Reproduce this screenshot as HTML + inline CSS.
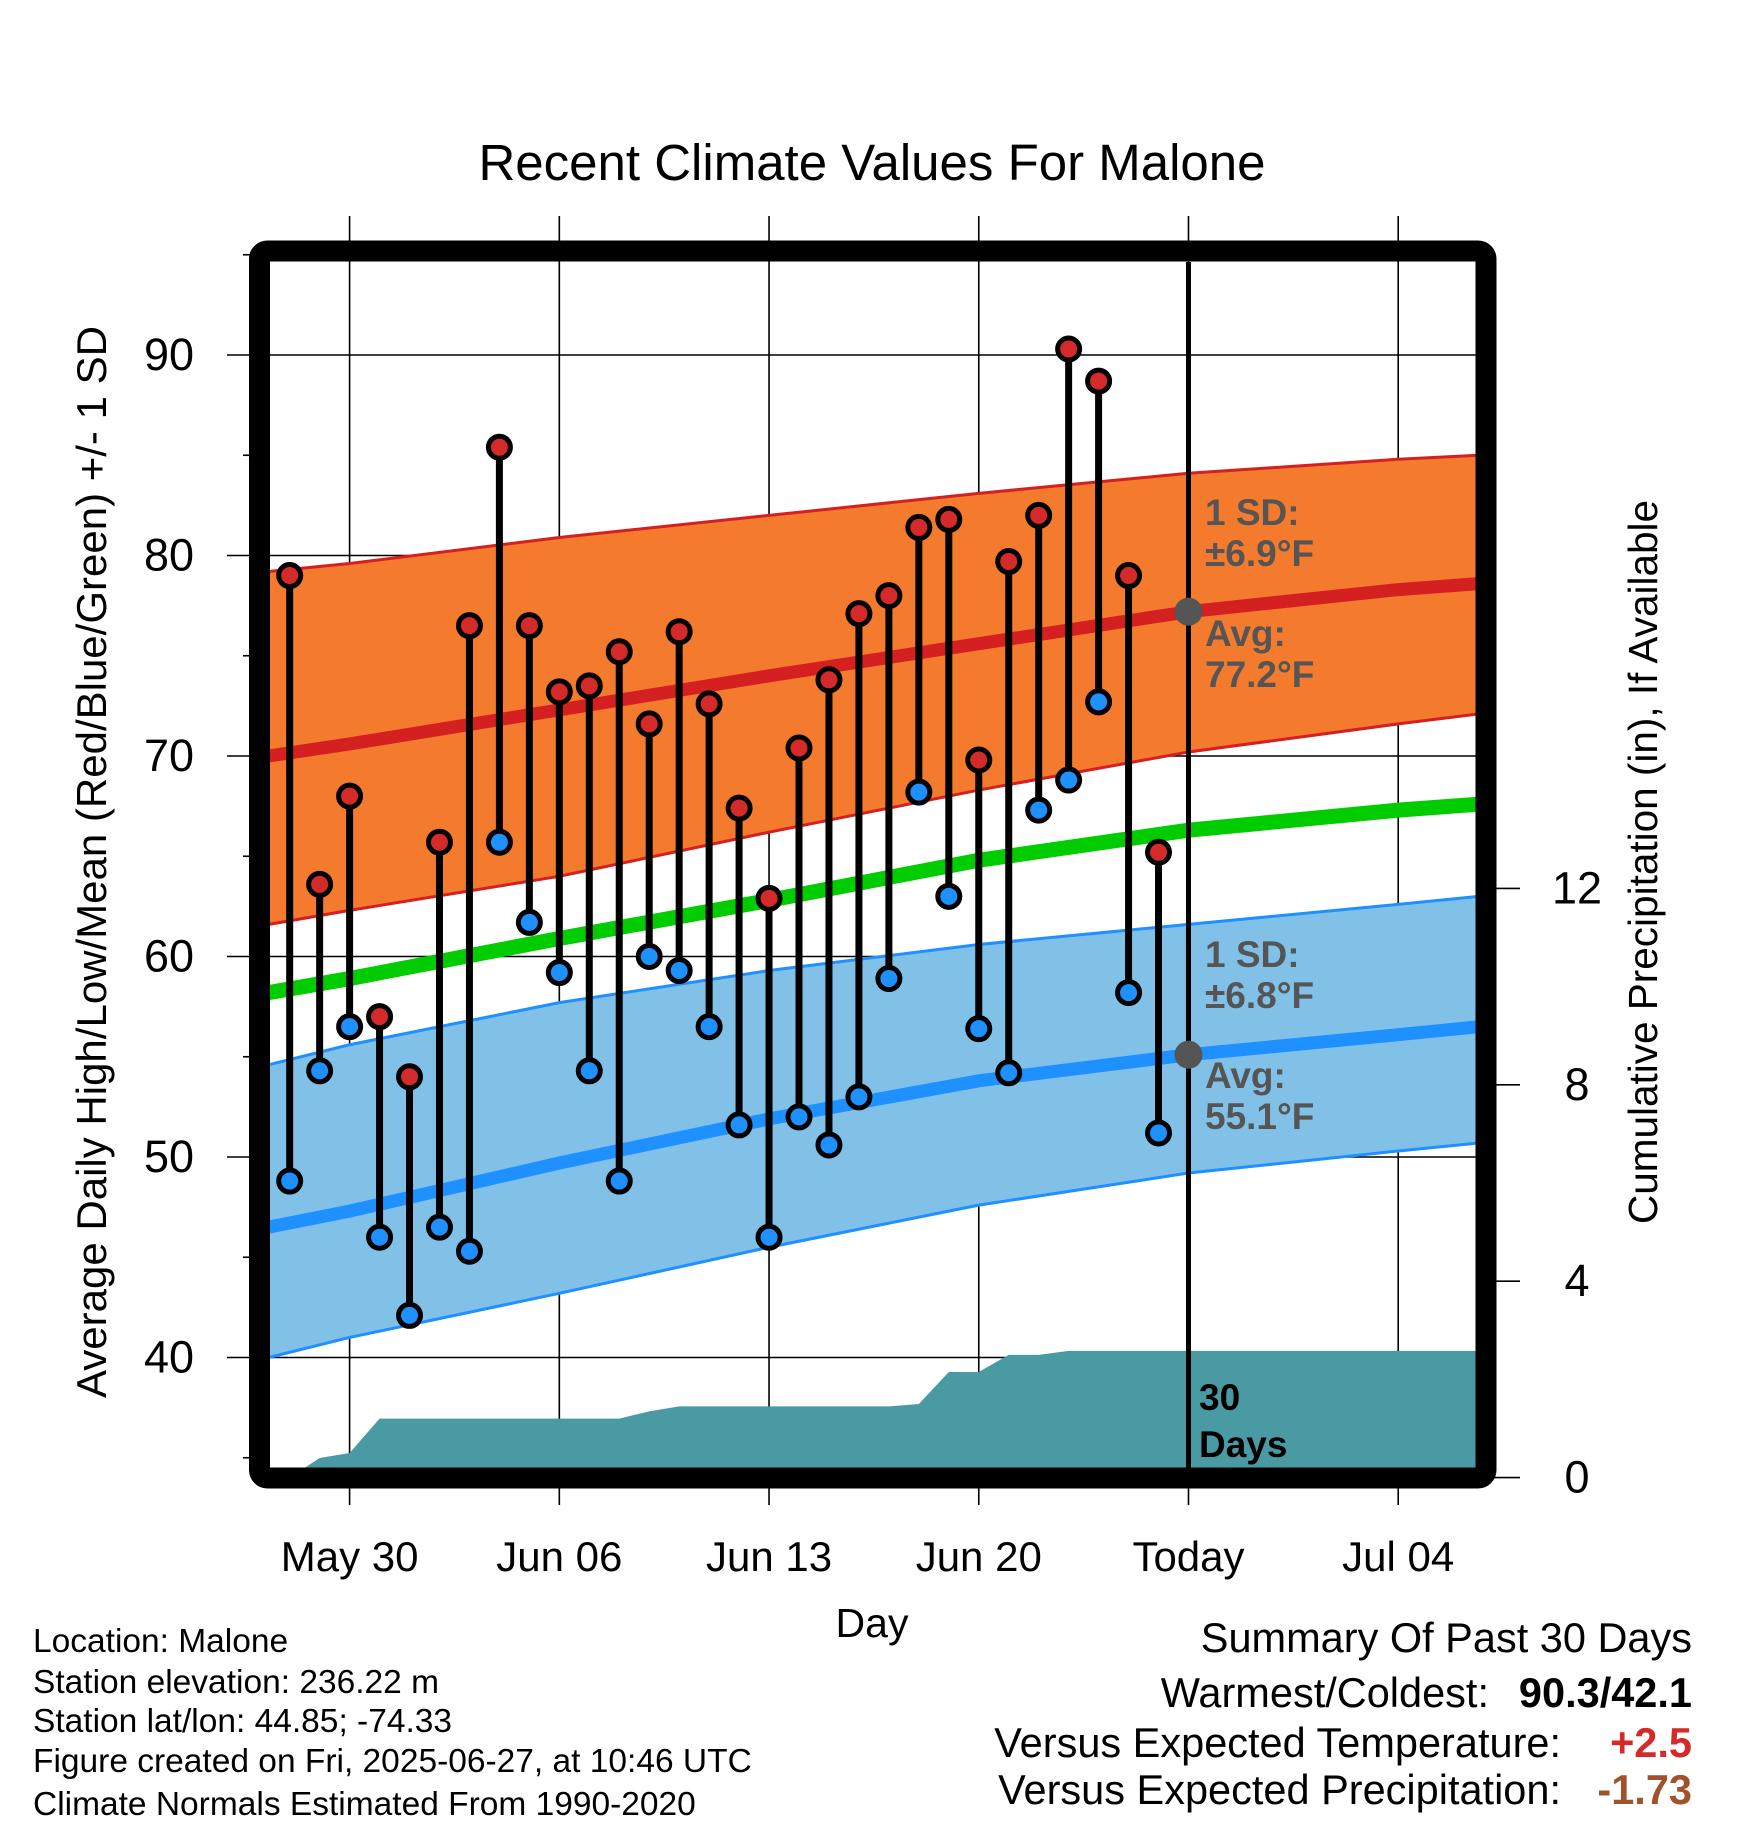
<!DOCTYPE html>
<html><head><meta charset="utf-8"><style>
html,body{margin:0;padding:0;background:#fff}
svg{display:block;font-family:"Liberation Sans",Arial,sans-serif}
</style></head><body>
<svg id="chart" width="1748" height="1828" viewBox="0 0 1748 1828" xmlns="http://www.w3.org/2000/svg">
<defs><clipPath id="clip"><rect x="270" y="262" width="1206" height="1206"/></clipPath></defs>
<text x="872" y="180" font-size="51" text-anchor="middle">Recent Climate Values For Malone</text>
<g id="grid"></g>
<g id="bands" clip-path="url(#clip)"></g>
<g id="marks"></g>
<rect x="259.5" y="251" width="1226.5" height="1227" rx="8" fill="none" stroke="#000" stroke-width="21"/>
<g id="labels"></g>
<text x="872" y="1637" font-size="41" text-anchor="middle">Day</text>
<text transform="translate(106,862) rotate(-90)" font-size="42" text-anchor="middle">Average Daily High/Low/Mean (Red/Blue/Green) +/- 1 SD</text>
<text transform="translate(1657,862) rotate(-90)" font-size="40.5" text-anchor="middle">Cumulative Precipitation (in), If Available</text>
<g font-size="33.5">
<text x="33" y="1652">Location: Malone</text>
<text x="33" y="1693">Station elevation: 236.22 m</text>
<text x="33" y="1732">Station lat/lon: 44.85; -74.33</text>
<text x="33" y="1772">Figure created on Fri, 2025-06-27, at 10:46 UTC</text>
<text x="33" y="1815">Climate Normals Estimated From 1990-2020</text>
</g>
<g font-size="41.5" text-anchor="end">
<text x="1692" y="1652">Summary Of Past 30 Days</text>
<text x="1489" y="1707">Warmest/Coldest:</text>
<text x="1692" y="1707" font-weight="bold">90.3/42.1</text>
<text x="1561" y="1757">Versus Expected Temperature:</text>
<text x="1692" y="1757" font-weight="bold" fill="#d42a2a">+2.5</text>
<text x="1561" y="1804">Versus Expected Precipitation:</text>
<text x="1692" y="1804" font-weight="bold" fill="#a0522d">-1.73</text>
</g>
</svg>
<script>
const days=[-2,-1,0,1,2,3,4,5,6,7,8,9,10,11,12,13,14,15,16,17,18,19,20,21,22,23,24,25,26,27];
const highs=[79,63.6,68,57,54,65.7,76.5,85.4,76.5,73.2,73.5,75.2,71.6,76.2,72.6,67.4,62.9,70.4,73.8,77.1,78,81.4,81.8,69.8,79.7,82,90.3,88.7,79,65.2];
const lows=[48.8,54.3,56.5,46,42.1,46.5,45.3,65.7,61.7,59.2,54.3,48.8,60,59.3,56.5,51.6,46,52,50.6,53,58.9,68.2,63,56.4,54.2,67.3,68.8,72.7,58.2,51.2];
const precip=[0,0.4,0.5,1.2,1.2,1.2,1.2,1.2,1.2,1.2,1.2,1.2,1.35,1.45,1.45,1.45,1.45,1.45,1.45,1.45,1.45,1.5,2.15,2.15,2.5,2.5,2.58,2.58,2.58,2.58];
const normDays=[-2.7,0,7,14,21,28,35,37.7];
const avgHigh=[70.0,70.6,72.3,74.0,75.6,77.2,78.3,78.6];
const highUpper=[79.2,79.6,80.9,82.0,83.1,84.1,84.8,85.0];
const highLower=[61.6,62.3,64.0,66.2,68.3,70.2,71.6,72.1];
const avgMean=[58.2,58.9,60.9,62.8,64.8,66.3,67.3,67.6];
const avgLow=[46.5,47.3,49.7,51.9,53.8,55.1,56.1,56.5];
const lowUpper=[54.6,55.6,57.7,59.3,60.6,61.6,62.6,63.0];
const lowLower=[40.0,41.0,43.2,45.5,47.6,49.2,50.3,50.7];
const xTicks=[0,7,14,21,28,35];
const xTickLabels=["May 30","Jun 06","Jun 13","Jun 20","Today","Jul 04"];
const yTicks=[40,50,60,70,80,90];
const yMinor=[35,45,55,65,75,85,95];
const pTicks=[0,4,8,12];
const todayDay=28;

const NS="http://www.w3.org/2000/svg";
const X=d=>349.6+d*29.96;
const Y=v=>355+(90-v)*20.05;
const P=p=>1477.6-p*49.1;
function mk(tag,attrs,parent){const e=document.createElementNS(NS,tag);for(const k in attrs)e.setAttribute(k,attrs[k]);parent.appendChild(e);return e;}
const grid=document.getElementById('grid'),bands=document.getElementById('bands'),marks=document.getElementById('marks'),labels=document.getElementById('labels');
const L=270,R=1476,T=262,B=1468;
yTicks.forEach(v=>{const l=mk('line',{x1:227,x2:R,y1:Y(v),y2:Y(v),stroke:'#000','stroke-width':1.6},grid);

const t=mk('text',{x:194,y:Y(v)+15,'font-size':45,'text-anchor':'end'},labels);t.textContent=v;
});
yMinor.forEach(v=>{const l=mk('line',{x1:243,x2:252,y1:Y(v),y2:Y(v),stroke:'#000','stroke-width':1.6},grid);
});
xTicks.forEach((d,i)=>{const l=mk('line',{x1:X(d),x2:X(d),y1:216,y2:1505,stroke:'#000','stroke-width':1.6},grid);

const t=mk('text',{x:X(d),y:1571,'font-size':42,'text-anchor':'middle'},labels);t.textContent=xTickLabels[i];
});
pTicks.forEach(p=>{const l=mk('line',{x1:1490,x2:1520,y1:P(p),y2:P(p),stroke:'#000','stroke-width':1.6},grid);

const t=mk('text',{x:1577,y:P(p)+15,'font-size':45,'text-anchor':'middle'},labels);t.textContent=p;
});

function pts(arr){return normDays.map((d,i)=>X(d)+','+Y(arr[i]));}
function band(up,lo,fill,edge,name){const p=mk('polygon',{points:pts(up).concat(pts(lo).reverse()).join(' '),fill:fill},bands);

[up,lo].forEach(a=>{const e=mk('polyline',{points:pts(a).join(' '),fill:'none',stroke:edge,'stroke-width':3},bands);
});}
band(highUpper,highLower,'#f47a2e','#d42020','high-sd-band');
band(lowUpper,lowLower,'#82c1e7','#1e90ff','low-sd-band');
function line(a,col,w,name){const e=mk('polyline',{points:pts(a).join(' '),fill:'none',stroke:col,'stroke-width':w},bands);
}
line(avgHigh,'#d42020',13,'avg-high-line');
line(avgMean,'#00cc00',15,'avg-mean-line');
line(avgLow,'#1e90ff',13,'avg-low-line');
let pp=[X(-2.7)+','+P(0)];
days.forEach((d,i)=>pp.push(X(d)+','+P(precip[i])));
pp.push(X(37.7)+','+P(precip[precip.length-1]));pp.push(X(37.7)+','+P(0));
const area=mk('polygon',{points:pp.join(' '),fill:'#4a9aa3'},bands);

const tl=mk('line',{x1:X(todayDay),x2:X(todayDay),y1:T,y2:B,stroke:'#000','stroke-width':5},bands);

[avgHigh,avgLow].forEach(a=>{const c=mk('circle',{cx:X(todayDay),cy:Y(a[5]),r:14,fill:'#555'},bands);
});
function txt(x,y,s,col,name){const t=mk('text',{x:x,y:y,'font-size':37,'font-weight':'bold',fill:col},labels);t.textContent=s;
}
txt(1205,525,'1 SD:','#555','high-sd-label');txt(1205,566,'±6.9°F','#555','high-sd-value');
txt(1205,646,'Avg:','#555','high-avg-label');txt(1205,687,'77.2°F','#555','high-avg-value');
txt(1205,967,'1 SD:','#555','low-sd-label');txt(1205,1008,'±6.8°F','#555','low-sd-value');
txt(1205,1088,'Avg:','#555','low-avg-label');txt(1205,1129,'55.1°F','#555','low-avg-value');
txt(1199,1410,'30','#000','days-label-1');txt(1199,1457,'Days','#000','days-label-2');
days.forEach((d,i)=>{const s=mk('line',{x1:X(d),x2:X(d),y1:Y(highs[i]),y2:Y(lows[i]),stroke:'#000','stroke-width':7},marks);
});
days.forEach((d,i)=>{const h=mk('circle',{cx:X(d),cy:Y(highs[i]),r:11,fill:'#d42a2a',stroke:'#000','stroke-width':5},marks);

const l=mk('circle',{cx:X(d),cy:Y(lows[i]),r:11,fill:'#1e90ff',stroke:'#000','stroke-width':5},marks);
});
</script>
</body></html>
